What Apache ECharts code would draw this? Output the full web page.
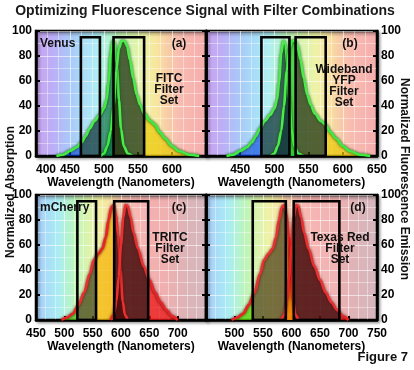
<!DOCTYPE html>
<html><head><meta charset="utf-8">
<script src="https://cdn.jsdelivr.net/npm/echarts@6/dist/echarts.min.js"></script>
<style>html,body{margin:0;padding:0;background:#fff}#c{width:414px;height:370px}</style>
</head><body><div id="c"></div>
<script>
// ---------------- DATA ----------------
// Venus (panels a, b): [wavelength nm, normalized value]
const venusAbsorption = [[430,0],[440,1],[450,4],[460,7],[467,11],[473,16],[479,22],[486,28],[494,33],[500,38],[504,45],[507,60],[510,82],[513,92],[516,90],[519,72],[522,45],[525,22],[529,8],[535,2],[542,0]];
const venusEmission = [[495,0],[500,2],[505,8],[510,20],[514,40],[518,68],[522,86],[526,92],[530,92],[534,88],[538,77],[543,62],[548,49],[553,41],[559,34],[568,28],[575,25],[582,19],[590,14],[600,8],[610,4],[625,1],[640,0]];
// mCherry (panels c, d)
const mcherryAbsorption = [[495,0],[505,2],[515,5],[525,12],[535,22],[545,37],[552,48],[560,53],[567,57],[573,66],[578,80],[583,90],[587,92],[591,85],[595,67],[599,40],[603,15],[607,4],[612,0]];
const mcherryEmission = [[582,0],[587,4],[592,15],[596,35],[600,60],[604,82],[608,92],[612,91],[617,82],[622,70],[630,57],[640,43],[650,32],[660,22],[670,14],[680,8],[690,3],[700,0]];
// Filter pass bands [start nm, end nm]: excitation, emission
const fitcFilter = [[466,494],[514,559]];
const yfpFilter = [[481,522],[531,575]];
const tritcFilter = [[523,556],[588,648]];
const texasRedFilter = [[532,590],[604,684]];
const filterTop = 95;
// Axis tick values
const yTicks = [0,20,40,60,80,100];
const xRangeTop = [400,650];
const xRangeBottom = [450,750];
const panelLetters = ['(a)','(b)','(c)','(d)'];
const dyeNames = ['Venus','','mCherry',''];
const filterNames = ['FITC\nFilter\nSet','Wideband\nYFP\nFilter\nSet','TRITC\nFilter\nSet','Texas Red\nFilter\nSet'];

// ---------------- STYLE ----------------
const FONT = '"Liberation Sans", Arial, Helvetica, sans-serif';
const spectrum = [[380,'#d4a8e4'],[400,'#cba4f0'],[425,'#bcaef6'],[450,'#aac8f8'],[470,'#a8dcf8'],[490,'#aaecf4'],[505,'#b2f2d8'],[520,'#bdf4b8'],[540,'#d6f4aa'],[560,'#eef2a2'],[578,'#f8e4a0'],[592,'#f8cea6'],[610,'#f8bcb0'],[640,'#f6b0ae'],[680,'#eeb0b0'],[715,'#dcb4b8'],[760,'#d2b8c0']];
function hex2rgb(h){return [parseInt(h.substr(1,2),16),parseInt(h.substr(3,2),16),parseInt(h.substr(5,2),16)];}
function colAt(w){
  for(let i=0;i<spectrum.length-1;i++){
    const a=spectrum[i],b=spectrum[i+1];
    if(w>=a[0]&&w<=b[0]){const t=(w-a[0])/(b[0]-a[0]);const ca=hex2rgb(a[1]),cb=hex2rgb(b[1]);
      return 'rgb('+ca.map((v,k)=>Math.round(v+(cb[k]-v)*t)).join(',')+')';}
  }
  return spectrum[spectrum.length-1][1];
}
function bgGradient(min,max){
  const stops=[{offset:0,color:colAt(min)}];
  spectrum.forEach(s=>{if(s[0]>min&&s[0]<max)stops.push({offset:(s[0]-min)/(max-min),color:s[1]});});
  stops.push({offset:1,color:colAt(max)});
  return new echarts.graphic.LinearGradient(0,0,1,0,stops);
}
// hard-edged horizontal fill: different tint inside / outside the filter pass bands
function areaGradient(data,filt,fills){
  const x0=data[0][0],x1=data[data.length-1][0];
  const bounds=[filt[0][0],filt[0][1],filt[1][0],filt[1][1]];
  const stops=[{offset:0,color:fills[0]}];
  bounds.forEach((b,k)=>{
    const o=Math.min(1,Math.max(0,(b-x0)/(x1-x0)));
    stops.push({offset:o,color:fills[k]},{offset:o,color:fills[k+1]});
  });
  stops.push({offset:1,color:fills[4]});
  return new echarts.graphic.LinearGradient(0,0,1,0,stops);
}
const greenLine='#40ea40', greenGlow='rgba(0,70,0,0.95)';
const redLine='#e82424', redGlow='rgba(90,0,0,0.95)';
const panels=[
 {grid:{left:36,top:31,width:170,height:125},range:xRangeTop,side:'left',abs:venusAbsorption,em:venusEmission,filt:fitcFilter,hideMin:false,hideMax:true,alignMin:'left',line:greenLine,glow:greenGlow,
  fills:['rgba(0,60,220,0.6)','rgba(0,40,45,0.75)','rgba(0,100,60,0.65)','rgba(20,40,0,0.76)','rgba(235,200,0,0.7)']},
 {grid:{left:206,top:31,width:171,height:125},range:xRangeTop,side:'right',abs:venusAbsorption,em:venusEmission,filt:yfpFilter,hideMin:true,hideMax:false,alignMin:'center',line:greenLine,glow:greenGlow,
  fills:['rgba(0,60,220,0.6)','rgba(0,40,45,0.75)','rgba(40,200,40,0.75)','rgba(20,40,0,0.76)','rgba(235,200,0,0.7)']},
 {grid:{left:36,top:195,width:170,height:125},range:xRangeBottom,side:'left',abs:mcherryAbsorption,em:mcherryEmission,filt:tritcFilter,hideMin:false,hideMax:true,alignMin:'center',line:redLine,glow:redGlow,
  fills:['rgba(70,190,20,0.72)','rgba(50,50,0,0.72)','rgba(245,180,0,0.72)','rgba(65,0,0,0.88)','rgba(235,20,20,0.75)']},
 {grid:{left:206,top:195,width:171,height:125},range:xRangeBottom,side:'right',abs:mcherryAbsorption,em:mcherryEmission,filt:texasRedFilter,hideMin:true,hideMax:false,alignMin:'center',line:redLine,glow:redGlow,
  fills:['rgba(80,210,0,0.75)','rgba(55,45,0,0.7)','rgba(245,130,0,0.8)','rgba(65,0,0,0.88)','rgba(235,20,20,0.75)']}
];

const grids=[],xAxes=[],yAxes=[],series=[];
const lbl={color:'#000',fontWeight:'bold',fontSize:12,fontFamily:FONT};
panels.forEach((p,i)=>{
  grids.push(Object.assign({show:true,backgroundColor:bgGradient(p.range[0],p.range[1]),borderColor:'#000',borderWidth:2.5,
    shadowColor:'rgba(0,0,0,0.35)',shadowBlur:3,shadowOffsetX:2,shadowOffsetY:2},p.grid));
  xAxes.push({gridIndex:i,type:'value',min:p.range[0],max:p.range[1],interval:50,
    axisLine:{lineStyle:{color:'#000',width:2.5}},
    axisTick:{inside:true,length:4,lineStyle:{color:'#000',width:2}},
    axisLabel:Object.assign({showMinLabel:!p.hideMin,showMaxLabel:!p.hideMax,alignMinLabel:p.alignMin,margin:8},lbl),
    splitLine:{show:true,lineStyle:{color:'rgba(255,255,255,0.6)',width:1}},
    minorTick:{show:false,splitNumber:3},
    minorSplitLine:{show:true,lineStyle:{color:'rgba(255,255,255,0.4)',width:1}},
    name:'Wavelength (Nanometers)',nameLocation:'middle',nameGap:20,nameTextStyle:lbl});
  const other = p.side==='left'?'right':'left';
  yAxes.push({gridIndex:i,type:'value',min:yTicks[0],max:yTicks[yTicks.length-1],interval:yTicks[1]-yTicks[0],position:p.side,
    axisLine:{show:true,lineStyle:{color:'#000',width:2.5}},
    axisTick:{show:true,inside:true,length:4,lineStyle:{color:'#000',width:2}},
    axisLabel:Object.assign({margin:4},lbl),
    splitLine:{show:true,lineStyle:{color:'rgba(255,255,255,0.6)',width:1}},
    minorTick:{show:false,splitNumber:2},
    minorSplitLine:{show:true,lineStyle:{color:'rgba(255,255,255,0.4)',width:1}}});
  yAxes.push({gridIndex:i,type:'value',min:yTicks[0],max:yTicks[yTicks.length-1],interval:yTicks[1]-yTicks[0],position:other,
    axisLine:{show:true,lineStyle:{color:'#000',width:2.5}},
    axisTick:{show:true,inside:true,length:4,lineStyle:{color:'#000',width:2}},
    axisLabel:{show:false},splitLine:{show:false}});
  const yi=i*2;
  [p.abs,p.em].forEach(d=>{
    series.push({type:'line',xAxisIndex:i,yAxisIndex:yi,data:d,smooth:0.3,smoothMonotone:'x',showSymbol:false,silent:true,z:2,
      lineStyle:{width:0},areaStyle:{opacity:1,color:areaGradient(d,p.filt,p.fills)}});
  });
  [p.abs,p.em].forEach(d=>{
    series.push({type:'line',xAxisIndex:i,yAxisIndex:yi,data:d,smooth:0.3,smoothMonotone:'x',showSymbol:false,silent:true,z:3,
      lineStyle:{color:p.line,width:2.6,shadowColor:p.glow,shadowBlur:3}});
  });
  series.push({type:'custom',xAxisIndex:i,yAxisIndex:yi,silent:true,z:5,
    data:p.filt.map(b=>[b[0],b[1],filterTop]),encode:{x:[0,1],y:2},
    renderItem:(params,api)=>{
      const p0=api.coord([api.value(0),0]),p1=api.coord([api.value(1),api.value(2)]);
      return {type:'rect',shape:{x:p0[0],y:p1[1],width:p1[0]-p0[0],height:p0[1]-p1[1]},
        style:{fill:'rgba(255,255,255,0.06)',stroke:'#000',lineWidth:2.6}};
    }});
});

const T=(text,x,y,size)=>({type:'text',x:x,y:y,z:100,
  style:{text:text,font:'bold '+size+'px '+FONT,fill:'#111',align:'center',verticalAlign:'middle',lineHeight:11}});
const graphic=[
  {type:'text',x:205,y:11,z:100,style:{text:'Optimizing Fluorescence Signal with Filter Combinations',font:'bold 14px '+FONT,fill:'#1a1a1a',align:'center',verticalAlign:'middle'}},
  {type:'text',x:11,y:192,rotation:Math.PI/2,z:100,style:{text:'Normalized Absorption',font:'bold 12px '+FONT,fill:'#111',align:'center',verticalAlign:'middle'}},
  {type:'text',x:404,y:179,rotation:-Math.PI/2,z:100,style:{text:'Normalized Fluorescence Emission',font:'bold 12px '+FONT,fill:'#111',align:'center',verticalAlign:'middle'}},
  {type:'text',x:408,y:357,z:100,style:{text:'Figure 7',font:'bold 13px '+FONT,fill:'#111',align:'right',verticalAlign:'middle'}},
  {type:'text',x:40,y:44,z:100,style:{text:dyeNames[0],font:'bold 12px '+FONT,fill:'#111',align:'left',verticalAlign:'middle'}},
  {type:'text',x:40,y:208,z:100,style:{text:dyeNames[2],font:'bold 12px '+FONT,fill:'#111',align:'left',verticalAlign:'middle'}},
  T(panelLetters[0],179,44,12), T(panelLetters[1],350,44,12), T(panelLetters[2],179,208,12), T(panelLetters[3],358,208,12),
  T(filterNames[0],169,90,12), T(filterNames[1],344,86,12), T(filterNames[2],170,249,12), T(filterNames[3],340,249,12)
];

const chart=echarts.init(document.getElementById('c'),null,{renderer:'canvas'});
chart.setOption({animation:false,grid:grids,xAxis:xAxes,yAxis:yAxes,series:series,graphic:graphic});
</script></body></html>
